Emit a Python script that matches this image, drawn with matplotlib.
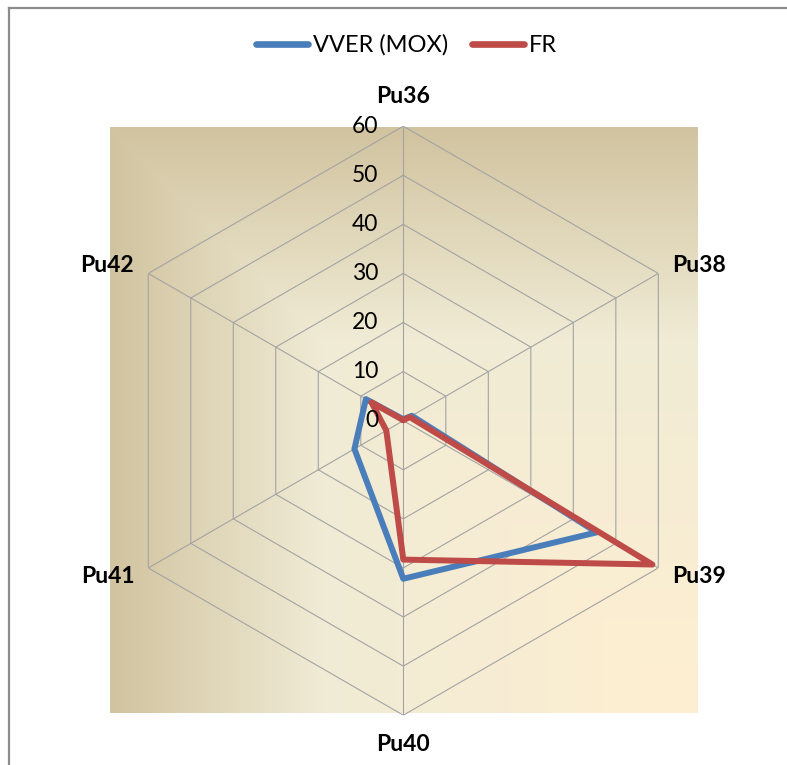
import numpy as np
import matplotlib
matplotlib.use("Agg")
import matplotlib.pyplot as plt
from matplotlib.lines import Line2D
from matplotlib.transforms import offset_copy

plt.rcParams['font.family'] = ['Lato', 'DejaVu Sans']

# isotope composition, %
categories = ['Pu36', 'Pu38', 'Pu39', 'Pu40', 'Pu41', 'Pu42']
vver_mox = [0.3, 2.0, 45.5, 32.2, 11.5, 8.8]
fr = [0.1, 1.5, 58.6, 28.3, 4.0, 7.5]
levels = [0, 10, 20, 30, 40, 50, 60]

blue = '#4a7ebb'
red = '#be4b48'
grid_col = '#a3a3a3'

W, H = 787, 765
fig = plt.figure(figsize=(W / 100, H / 100), dpi=100, facecolor='white')

# parchment-style gradient behind the radar
x0, x1, y0, y1 = 110, 697, 127, 713
bg = fig.add_axes([x0 / W, 1 - y1 / H, (x1 - x0) / W, (y1 - y0) / H])
n = 400
u = np.linspace(0, 1, n)
uu, vv = np.meshgrid(u, u)
t = np.maximum(1 - uu, 1 - vv)
stops = [0.0, 0.64, 1.0]
cols = np.array([[0xff, 0xef, 0xd1], [0xf0, 0xeb, 0xd5], [0xd1, 0xc3, 0x9f]]) / 255
img = np.dstack([np.interp(t, stops, cols[:, k]) for k in range(3)])
bg.imshow(img, aspect='auto', interpolation='bilinear')
bg.axis('off')

# radar axes
cx, cy, R = 403.3, 420.7, 294.5
ax = fig.add_axes([(cx - R) / W, (H - cy - R) / H, 2 * R / W, 2 * R / H],
                  projection='polar')
ax.set_zorder(2)
ax.patch.set_visible(False)
ax.set_theta_zero_location('N')
ax.set_theta_direction(-1)
ax.set_ylim(0, 60)
ax.grid(False)
ax.spines['polar'].set_visible(False)
ax.set_xticks([])
ax.set_yticks([])

theta = np.deg2rad(np.arange(len(categories)) * 60)
theta_c = np.append(theta, theta[0])

for r in levels[1:]:
    ax.plot(theta_c, [r] * len(theta_c), color=grid_col, lw=0.8, zorder=1)
for th in theta:
    ax.plot([th, th], [0, levels[-1]], color=grid_col, lw=0.8, zorder=1)

ax.plot(theta_c, vver_mox + vver_mox[:1], color=blue, lw=4.3,
        solid_joinstyle='round', solid_capstyle='round', zorder=3)
ax.plot(theta_c, fr + fr[:1], color=red, lw=4.3,
        solid_joinstyle='round', solid_capstyle='round', zorder=4)

# radial value labels left of the top spoke
lab_tr = offset_copy(ax.transData, fig=fig, x=-25, y=0, units='dots')
for r in levels:
    ax.text(0, r, str(r), transform=lab_tr, ha='right', va='center',
            fontsize=16.5, color='black', zorder=5)

# category labels
for th, name in zip(theta, categories):
    deg = np.rad2deg(th)
    if deg in (0, 180):
        ax.text(th, 66, name, ha='center', va='center',
                fontsize=16.5, fontweight='bold')
    elif deg < 180:
        ax.text(th, 63.3, name, ha='left', va='center',
                fontsize=16.5, fontweight='bold')
    else:
        ax.text(th, 63.3, name, ha='right', va='center',
                fontsize=16.5, fontweight='bold')

handles = [Line2D([], [], color=blue, lw=4.8, solid_capstyle='round'),
           Line2D([], [], color=red, lw=4.8, solid_capstyle='round')]
fig.legend(handles, ['VVER (MOX)', 'FR'], loc='center',
           bbox_to_anchor=(0.5165, 0.941), ncol=2, frameon=False,
           fontsize=17, handlelength=2.2, handletextpad=0.2,
           columnspacing=1.0)

# chart frame, only the top and left edges fall inside the image
bx, by = 8.5 / W, 1 - 7.5 / H
fig.add_artist(Line2D([bx, bx], [0, by], transform=fig.transFigure,
                      color='#8c8c8c', lw=1.6))
fig.add_artist(Line2D([bx, 1], [by, by], transform=fig.transFigure,
                      color='#8c8c8c', lw=1.6))

fig.savefig('out.png', dpi=100, facecolor='white')
